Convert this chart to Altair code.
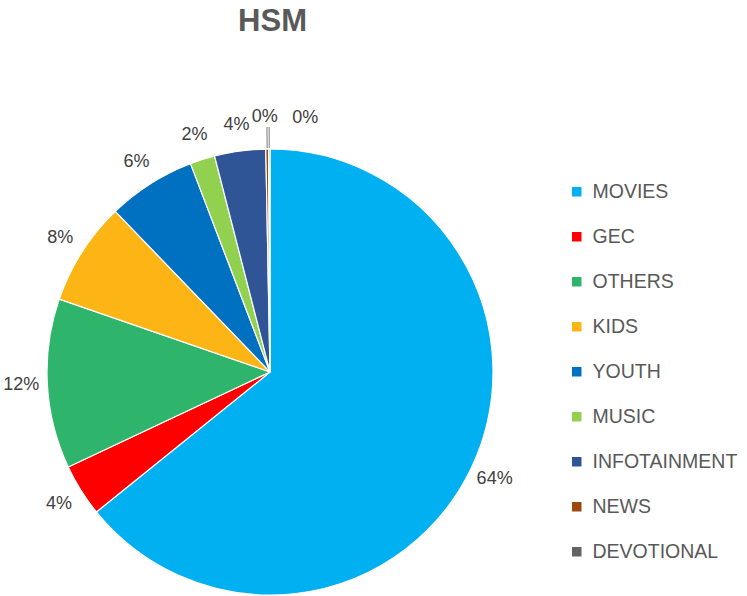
import altair as alt
import pandas as pd

categories = ["MOVIES", "GEC", "OTHERS", "KIDS", "YOUTH", "MUSIC", "INFOTAINMENT", "NEWS", "DEVOTIONAL"]
values = [64.2, 3.8, 12.3, 7.5, 6.4, 1.8, 3.7, 0.2, 0.1]
colors = ["#00B0F0", "#FF0000", "#2FB56B", "#FDB515", "#0070C0", "#92D050", "#2F5597", "#9E480E", "#636363"]

df = pd.DataFrame({"category": categories, "value": values, "idx": list(range(len(categories)))})

FONT = "Liberation Sans"
CX, CY = 270, 322
R = 223

base = alt.Chart(df).transform_window(
    cum="sum(value)", sort=[alt.SortField("idx")], frame=[None, 0]
).transform_calculate(
    start="datum.cum - datum.value",
    mid="datum.cum - datum.value / 2",
    label="format(round(datum.value), 'd') + '%'",
)

theta_scale = alt.Scale(domain=[0, 100])

pie = base.mark_arc(stroke="white", strokeWidth=1.2).encode(
    theta=alt.Theta("start:Q", scale=theta_scale),
    theta2="cum:Q",
    radius=alt.value(R),
    x=alt.value(CX),
    y=alt.value(CY),
    color=alt.Color(
        "category:N",
        scale=alt.Scale(domain=categories, range=colors),
        sort=categories,
        legend=alt.Legend(
            title=None,
            orient="none",
            legendX=567,
            legendY=132,
            symbolType="square",
            symbolSize=90,
            symbolStrokeWidth=0,
            labelFontSize=19.5,
            labelFont=FONT,
            labelColor="#595959",
            labelOffset=6,
            rowPadding=24,
            labelLimit=300,
        ),
    ),
)

labels_main = base.transform_filter("datum.value >= 1").mark_text(
    font=FONT, fontSize=18, color="#404040", align="center", baseline="middle"
).encode(
    theta=alt.Theta("mid:Q", scale=theta_scale),
    radius=alt.value(249),
    x=alt.value(CX),
    y=alt.value(CY),
    text="label:N",
)

leader = base.transform_filter("datum.value < 1").mark_arc(
    stroke="#A6A6A6", strokeWidth=1.5, fillOpacity=0
).encode(
    theta=alt.Theta("mid:Q", scale=theta_scale),
    theta2="mid:Q",
    radius=alt.value(224),
    radius2=alt.value(245),
    x=alt.value(CX),
    y=alt.value(CY),
)

label_news = base.transform_filter("datum.category == 'NEWS'").mark_text(
    font=FONT, fontSize=18, color="#404040", align="center", baseline="middle", dx=-2
).encode(
    theta=alt.Theta("mid:Q", scale=theta_scale),
    radius=alt.value(255),
    x=alt.value(CX),
    y=alt.value(CY),
    text="label:N",
)

label_dev = base.transform_filter("datum.category == 'DEVOTIONAL'").mark_text(
    font=FONT, fontSize=18, color="#404040", align="center", baseline="middle", dx=36, dy=1
).encode(
    theta=alt.Theta("mid:Q", scale=theta_scale),
    radius=alt.value(255),
    x=alt.value(CX),
    y=alt.value(CY),
    text="label:N",
)

chart = alt.layer(pie, leader, labels_main, label_news, label_dev).properties(
    width=747,
    height=546,
    autosize=alt.AutoSizeParams(type="none"),
    padding={"left": 0, "top": 50, "right": 0, "bottom": 0},
    title=alt.TitleParams(
        "HSM", font=FONT, fontSize=31, fontWeight="bold", color="#595959",
        anchor="middle", dx=-101, offset=12,
    ),
).configure_view(stroke=None)

chart.save("out.html", embed_options={"renderer": "svg", "actions": False})
